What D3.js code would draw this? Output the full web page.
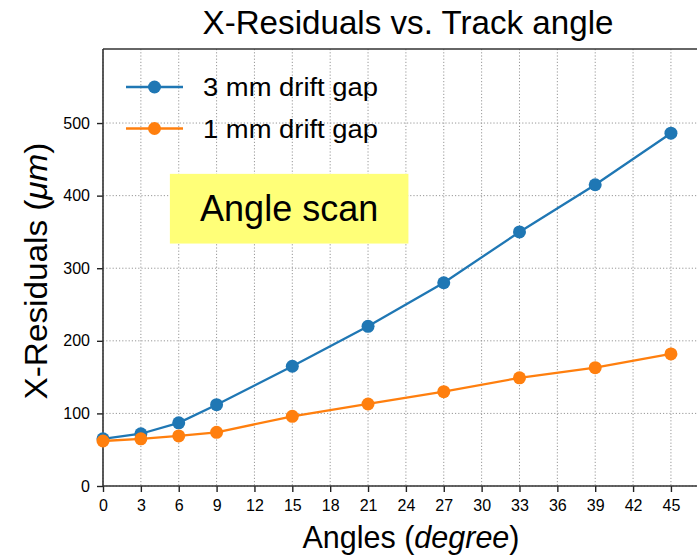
<!DOCTYPE html>
<html>
<head>
<meta charset="utf-8">
<script src="https://cdn.jsdelivr.net/npm/d3@7"></script>
<style>
  html, body { margin: 0; padding: 0; background: #fff; }
  svg { display: block; }
  text { font-family: "Liberation Sans", Arial, sans-serif; fill: #000; }
</style>
</head>
<body>
<div id="chart"></div>
<script>
const angles = [0, 3, 6, 9, 15, 21, 27, 33, 39, 45];
const gap3mm = [65, 72, 87, 112, 165, 220, 280, 350, 415, 486];
const gap1mm = [62, 65, 69, 74, 96, 113, 130, 149, 163, 182];
const seriesNames = ["3 mm drift gap", "1 mm drift gap"];
const seriesColors = ["#1f77b4", "#ff7f0e"];
const xTicks = d3.range(0, 46, 3);
const yTicks = [0, 100, 200, 300, 400, 500];

const W = 697, H = 559;
const m = { left: 103, top: 49, right: 717, bottom: 486 };

const svg = d3.select("#chart").append("svg").attr("width", W).attr("height", H);

const x = d3.scaleLinear().domain([0, 48.65]).range([m.left, m.right]);
const y = d3.scaleLinear().domain([0, 602]).range([m.bottom, m.top]);

function fitText(sel, cx, cy, target, rotate) {
  const w = sel.node().getComputedTextLength();
  const s = target / w;
  sel.attr("x", 0).attr("y", 0)
    .attr("transform", `translate(${cx},${cy})` + (rotate ? ` rotate(${rotate})` : "") + ` scale(${s},1)`);
}

// grid
const grid = svg.append("g");
grid.selectAll(".vg").data(xTicks).join("line")
  .attr("x1", d => x(d)).attr("x2", d => x(d))
  .attr("y1", m.top).attr("y2", m.bottom)
  .attr("stroke", "#8c8c8c").attr("stroke-width", 0.9).attr("stroke-dasharray", "1.2,2");
grid.selectAll(".hg").data(yTicks).join("line")
  .attr("x1", m.left).attr("x2", m.right)
  .attr("y1", d => y(d)).attr("y2", d => y(d))
  .attr("stroke", "#8c8c8c").attr("stroke-width", 0.9).attr("stroke-dasharray", "1.2,2");

// annotation box
const box = svg.append("g");
box.append("rect")
  .attr("x", x(5.3)).attr("y", y(430))
  .attr("width", x(24.2) - x(5.3)).attr("height", y(334) - y(430))
  .attr("fill", "rgb(255,255,120)");
box.append("text")
  .attr("x", (x(5.3) + x(24.2)) / 2).attr("y", y(382)).attr("dy", "0.35em")
  .attr("text-anchor", "middle").style("font-size", "36px")
  .text("Angle scan");

// axes
const xAxis = d3.axisBottom(x).tickValues(xTicks).tickSize(6).tickPadding(8);
const yAxis = d3.axisLeft(y).tickValues(yTicks).tickSize(6).tickPadding(7);
const gx = svg.append("g").attr("transform", `translate(0,${m.bottom})`).call(xAxis);
const gy = svg.append("g").attr("transform", `translate(${m.left},0)`).call(yAxis);
[gx, gy].forEach(g => {
  g.attr("font-size", 16).attr("font-family", "Liberation Sans, Arial, sans-serif");
  g.select(".domain").remove();
  g.selectAll(".tick line").attr("stroke", "#222").attr("stroke-width", 1.4);
  g.selectAll(".tick text").attr("fill", "#000");
});

// spines
svg.append("line").attr("x1", m.left).attr("x2", m.left).attr("y1", m.top).attr("y2", m.bottom)
  .attr("stroke", "#333").attr("stroke-width", 1.6);
svg.append("line").attr("x1", m.left).attr("x2", m.right).attr("y1", m.bottom).attr("y2", m.bottom)
  .attr("stroke", "#333").attr("stroke-width", 1.6);
svg.append("line").attr("x1", m.left).attr("x2", m.right).attr("y1", m.top).attr("y2", m.top)
  .attr("stroke", "#333").attr("stroke-width", 1.6);

// series
const series = [gap3mm, gap1mm];
const line = d3.line().x(d => x(d[0])).y(d => y(d[1]));
series.forEach((vals, i) => {
  const pts = angles.map((a, j) => [a, vals[j]]);
  const g = svg.append("g");
  g.append("path").datum(pts).attr("d", line)
    .attr("fill", "none").attr("stroke", seriesColors[i]).attr("stroke-width", 2.3);
  g.selectAll("circle").data(pts).join("circle")
    .attr("cx", d => x(d[0])).attr("cy", d => y(d[1])).attr("r", 6.5)
    .attr("fill", seriesColors[i]);
});

// legend
const legend = svg.append("g");
seriesNames.forEach((name, i) => {
  const ly = 87 + i * 41.5;
  legend.append("line").attr("x1", 126).attr("x2", 183).attr("y1", ly).attr("y2", ly)
    .attr("stroke", seriesColors[i]).attr("stroke-width", 2.3);
  legend.append("circle").attr("cx", 154.5).attr("cy", ly).attr("r", 6.5).attr("fill", seriesColors[i]);
  legend.append("text").attr("x", 203).attr("y", ly).attr("dy", "0.36em")
    .style("font-size", "25px").attr("textLength", 175).attr("lengthAdjust", "spacingAndGlyphs")
    .text(name);
});

// title
const title = svg.append("text").attr("text-anchor", "middle").style("font-size", "33px")
  .text("X-Residuals vs. Track angle");
fitText(title, 408, 34, 411);

// x label
const xl = svg.append("text").attr("text-anchor", "middle").style("font-size", "32px");
xl.append("tspan").text("Angles (");
xl.append("tspan").attr("font-style", "italic").text("degree");
xl.append("tspan").text(")");
fitText(xl, 411, 548, 217);

// y label
const yl = svg.append("text").attr("text-anchor", "middle").style("font-size", "31px");
yl.append("tspan").text("X-Residuals (");
yl.append("tspan").attr("font-style", "italic").text("μm");
yl.append("tspan").text(")");
fitText(yl, 47, 271, 257, -90);
</script>
</body>
</html>
